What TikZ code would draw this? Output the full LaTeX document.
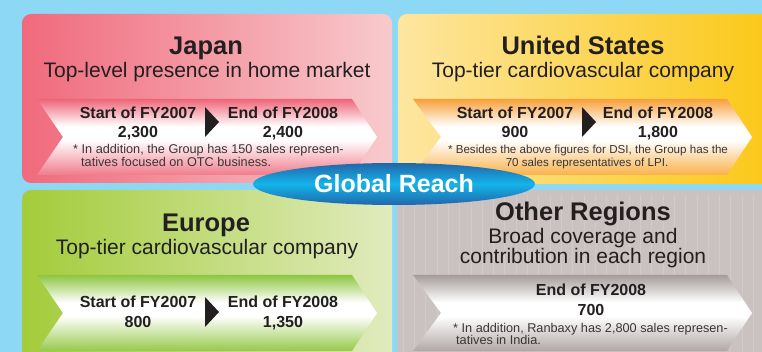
\documentclass[tikz,border=0pt]{standalone}
\usepackage{fontspec}
\setmainfont{Liberation Sans}
\definecolor{bg}{HTML}{8DD8F5}
\definecolor{ink}{HTML}{231F20}
\definecolor{notec}{HTML}{3A3536}
\definecolor{japL}{HTML}{F06A7C}
\definecolor{japR}{HTML}{F8CACD}
\definecolor{usL}{HTML}{FDE6A0}
\definecolor{usR}{HTML}{FBC816}
\definecolor{euL}{HTML}{A3CC3A}
\definecolor{euR}{HTML}{E1EBBE}
\definecolor{oth}{HTML}{CAC2C0}
\definecolor{othS}{HTML}{D1CAC8}
\definecolor{japBT}{HTML}{EE6578}
\definecolor{japBB}{HTML}{F07C8C}
\definecolor{usBT}{HTML}{F7A03A}
\definecolor{usBB}{HTML}{F9B24A}
\definecolor{euBT}{HTML}{8DC641}
\definecolor{euBB}{HTML}{96C94A}
\definecolor{othBT}{HTML}{A59C9A}
\definecolor{othBB}{HTML}{AFA7A5}
\definecolor{elD}{HTML}{2266AA}
\definecolor{elM}{HTML}{14B4EA}
\pgfdeclareverticalshading{japband}{100bp}{color(0bp)=(japBB); color(25bp)=(japBB); color(48bp)=(white); color(57bp)=(white); color(75bp)=(japBT); color(100bp)=(japBT)}
\pgfdeclareverticalshading{usband}{100bp}{color(0bp)=(usBB); color(25bp)=(usBB); color(48bp)=(white); color(57bp)=(white); color(75bp)=(usBT); color(100bp)=(usBT)}
\pgfdeclareverticalshading{euband}{100bp}{color(0bp)=(euBB); color(25bp)=(euBB); color(48bp)=(white); color(57bp)=(white); color(75bp)=(euBT); color(100bp)=(euBT)}
\pgfdeclareverticalshading{othband}{100bp}{color(0bp)=(othBB); color(25bp)=(othBB); color(48bp)=(white); color(57bp)=(white); color(75bp)=(othBT); color(100bp)=(othBT)}
\begin{document}
\begin{tikzpicture}[x=1pt,y=-1pt,
  txt/.style={text=ink, inner sep=0pt, anchor=base},
  ttl/.style={txt, font=\fontsize{25.5}{30}\selectfont\bfseries},
  sub/.style={txt, font=\fontsize{21}{25}\selectfont},
  lab/.style={txt, font=\fontsize{16}{19}\selectfont\bfseries},
  note/.style={txt, anchor=base west, font=\fontsize{12.7}{14}\selectfont, text=notec},
  notec/.style={txt, font=\fontsize{11.6}{13}\selectfont, text=notec},
  gr/.style={txt, text=white, font=\fontsize{25}{29}\selectfont\bfseries},
  tri/.style={fill=ink},
]
\useasboundingbox (0,0) rectangle (762,352);
\begin{scope}
\clip (0,0) rectangle (762,352);
\fill[bg] (0,0) rectangle (762,352);
% boxes
\shade[left color=japL, right color=japR, rounded corners=9pt] (22,14) rectangle (392,183);
\shade[left color=usL, right color=usR, rounded corners=9pt] (398,14) rectangle (775,184);
\shade[left color=euL, right color=euR, rounded corners=9pt] (22,190) rectangle (392,370);
\fill[oth, rounded corners=9pt] (397,190) rectangle (775,370);
\foreach \i in {0,...,32} {
  \draw[othS, line width=0.6pt] (403+11.3*\i,195) -- (403+11.3*\i,352);
}
% bands
\shade[shading=japband]
  (37,99) -- (352,99) -- (377,137) -- (352,175) -- (37,175) -- (63,137) -- cycle;
\shade[shading=usband]
  (413,99) -- (727,99) -- (752,137) -- (727,175) -- (413,175) -- (441,137) -- cycle;
\shade[shading=euband]
  (37,275) -- (352,275) -- (377,313) -- (352,351) -- (37,351) -- (63,313) -- cycle;
\shade[shading=othband]
  (413,275) -- (727,275) -- (752,313) -- (727,351) -- (413,351) -- (441,313) -- cycle;
% triangles
\fill[tri] (205,107) -- (219,122) -- (205,137) -- cycle;
\fill[tri] (582,107) -- (596,122) -- (582,137) -- cycle;
\fill[tri] (205,297) -- (219,312) -- (205,327) -- cycle;
% Japan
\node[ttl] (jt) at (206,55) {Japan};
\node[sub] (js) at (207,78) {Top-level presence in home market};
\node[lab] (js1) at (138,119) {Start of FY2007};
\node[lab] (jn1) at (138,138) {2,300};
\node[lab] (je1) at (283,119) {End of FY2008};
\node[lab] (jn2) at (283,138) {2,400};
\node[note] (jnote1) at (73,154) {* In addition, the Group has 150 sales represen-};
\node[note] (jnote2) at (81,167) {tatives focused on OTC business.};
% US
\node[ttl] (ut) at (583,55) {United States};
\node[sub] (us) at (583,78) {Top-tier cardiovascular company};
\node[lab] (us1) at (515,119) {Start of FY2007};
\node[lab] (un1) at (515,138) {900};
\node[lab] (ue1) at (658,119) {End of FY2008};
\node[lab] (un2) at (658,138) {1,800};
\node[notec] (unote1) at (588,154) {* Besides the above figures for DSI, the Group has the};
\node[notec] (unote2) at (587,167) {70 sales representatives of LPI.};
% Europe
\node[ttl] (et) at (206,232) {Europe};
\node[sub] (es) at (207,255) {Top-tier cardiovascular company};
\node[lab] (es1) at (138,308) {Start of FY2007};
\node[lab] (en1) at (138,327) {800};
\node[lab] (ee1) at (283,308) {End of FY2008};
\node[lab] (en2) at (283,327) {1,350};
% Other
\node[ttl] (ot) at (583,221) {Other Regions};
\node[sub] (os1) at (583,244) {Broad coverage and};
\node[sub] (os2) at (583,264) {contribution in each region};
\node[lab] (oe1) at (591,295) {End of FY2008};
\node[lab] (on1) at (591,316) {700};
\node[note] (onote1) at (453,332) {* In addition, Ranbaxy has 2,800 sales represen-};
\node[note] (onote2) at (456,344) {tatives in India.};
% Global Reach
\shade[top color=elD, bottom color=elD, middle color=elM] (394,184) ellipse [x radius=141, y radius=21];
\node[gr] (gr) at (394,193) {Global Reach};
\end{scope}
\end{tikzpicture}
\end{document}
